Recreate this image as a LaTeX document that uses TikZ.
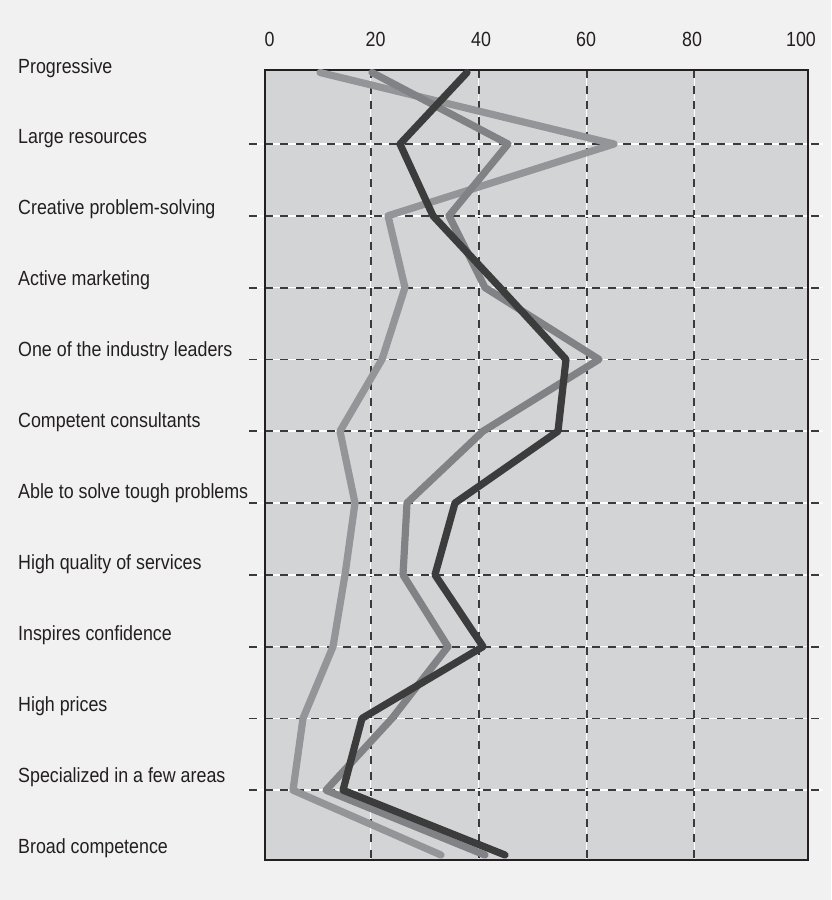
\documentclass[tikz,border=0pt]{standalone}
\usepackage{fontspec}
\setmainfont{Liberation Sans}[FakeStretch=0.87]
\definecolor{pagebg}{HTML}{F1F1F1}
\definecolor{plotbg}{HTML}{D3D4D6}
\definecolor{ink}{HTML}{231F20}
\definecolor{gridink}{HTML}{3A3A3A}
\definecolor{serA}{HTML}{939598}
\definecolor{serB}{HTML}{808285}
\definecolor{serC}{HTML}{3C3C3C}
\begin{document}
\begin{tikzpicture}[x=1pt,y=-1pt,
  lbl/.style={anchor=base west, inner sep=0pt, text=ink,
    font=\fontsize{20.5}{24}\selectfont},
  num/.style={anchor=base, inner sep=0pt, text=ink,
    font=\fontsize{20.5}{24}\selectfont},
  gridbase/.style={white, line width=1.5pt},
  griddash/.style={gridink, line width=1.8pt, dash pattern=on 8pt off 7.6pt},
  frameline/.style={ink, line width=2.6pt},
  series/.style={line width=7.2pt, line cap=round, line join=round}]

% page and plot area
\useasboundingbox (0,0) rectangle (831,900);
\fill[pagebg] (0,0) rectangle (831,900);
\fill[plotbg] (265,70) rectangle (808,860);

% vertical grid lines (20, 40, 60, 80)
\foreach \gx in {370.7,478.7,586.7,694.3} {
  \draw[gridbase] (\gx,70) -- (\gx,860);
  \draw[griddash] (\gx,70) -- (\gx,860);
}
% horizontal grid lines, one per inner category
\foreach \k in {0,...,9} {
  \pgfmathsetmacro{\gy}{144+71.8*\k}
  \draw[gridbase] (249,\gy) -- (823,\gy);
  \draw[griddash] (249,\gy) -- (823,\gy);
}

% frame
\draw[frameline] (265,70) rectangle (808,860);

% axis values
\node[num] (v0)   at (269.5,46) {0};
\node[num] (v20)  at (375.5,46) {20};
\node[num] (v40)  at (481,46)   {40};
\node[num] (v60)  at (586,46)   {60};
\node[num] (v80)  at (692,46)   {80};
\node[num] (v100) at (801,46)   {100};

% category labels
\node[lbl] (c1)  at (18,73)    {Progressive};
\node[lbl] (c2)  at (18,143.9) {Large resources};
\node[lbl] (c3)  at (18,214.8) {Creative problem-solving};
\node[lbl] (c4)  at (18,285.7) {Active marketing};
\node[lbl] (c5)  at (18,356.6) {One of the industry leaders};
\node[lbl] (c6)  at (18,427.5) {Competent consultants};
\node[lbl] (c7)  at (18,498.4) {Able to solve tough problems};
\node[lbl] (c8)  at (18,569.3) {High quality of services};
\node[lbl] (c9)  at (18,640.2) {Inspires confidence};
\node[lbl] (c10) at (18,711.1) {High prices};
\node[lbl] (c11) at (18,782)   {Specialized in a few areas};
\node[lbl] (c12) at (18,853)   {Broad competence};

% data series
\draw[series, serA] (320,72.5) -- (614,144) -- (388,215.8) -- (405,287.6)
  -- (382,359.4) -- (340,431.2) -- (355,503) -- (345,574.8) -- (333,646.6)
  -- (303,718.4) -- (293,790.2) -- (441,855);
\draw[series, serB] (372,72.5) -- (508,144) -- (449,215.8) -- (485,287.6)
  -- (599,359.4) -- (483,431.2) -- (407,503) -- (403,574.8) -- (448,646.6)
  -- (392,718.4) -- (326,790.2) -- (485,855);
\draw[series, serC] (467,72.5) -- (400,144) -- (433,215.8) -- (500,287.6)
  -- (566,359.4) -- (558,431.2) -- (455,503) -- (435,574.8) -- (483,646.6)
  -- (362,718.4) -- (343,790.2) -- (505,855);
\end{tikzpicture}
\end{document}
